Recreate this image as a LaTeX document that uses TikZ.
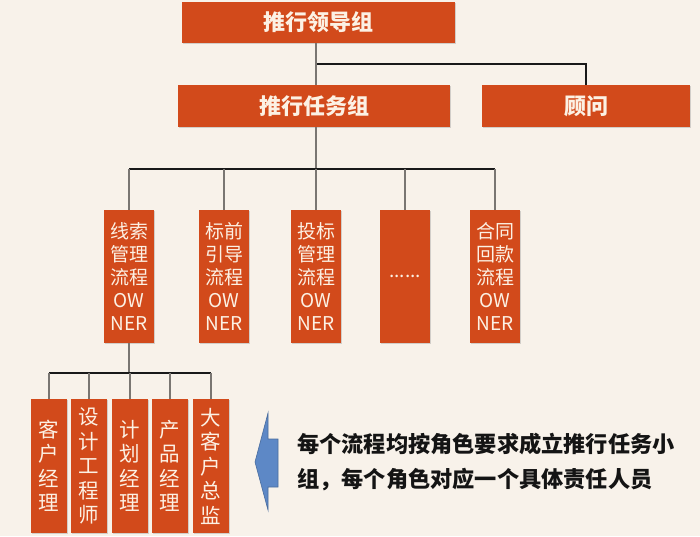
\documentclass[tikz,border=0pt]{standalone}
\usepackage{fontspec}
\setmainfont{Noto Sans CJK SC}
\newfontfamily\cjk{Noto Sans CJK SC}
\usetikzlibrary{shadows}
\definecolor{bgc}{HTML}{F8F2EA}
\definecolor{boxc}{HTML}{D24A1B}
\definecolor{txtc}{HTML}{FCF1E4}
\definecolor{arrc}{HTML}{5D88C6}
\definecolor{vline}{HTML}{7A7672}
\tikzset{
  orgbox/.style={fill=boxc, text=txtc, inner sep=0pt, align=center,
     drop shadow={shadow xshift=1.2pt, shadow yshift=-1.2pt, fill=black!45, opacity=0.35}},
  topbox/.style={orgbox, font=\cjk\bfseries\fontsize{22}{25}\selectfont},
  midbox/.style={orgbox, minimum width=50pt, minimum height=133pt, font=\cjk\fontsize{19}{23}\selectfont},
  lowbox/.style={orgbox, minimum width=36pt, minimum height=134pt, font=\cjk\fontsize{20.5}{24.5}\selectfont},
  hconn/.style={draw=black!90, line width=2pt},
  vconn/.style={draw=vline, line width=2.4pt},
}
\begin{document}
\begin{tikzpicture}[x=1pt,y=-1pt]
\fill[bgc] (0,0) rectangle (700,536);
\useasboundingbox (0,0) rectangle (700,536);

% top
\node[topbox, minimum width=273pt, minimum height=41pt] (lead) at (318.5,22.5) {推行领导组};
\node[topbox, minimum width=272pt, minimum height=42pt] (task) at (314,106) {推行任务组};
\node[topbox, minimum width=208pt, minimum height=42pt] (adv) at (586,106) {顾问};

% middle
\node[midbox] (m1) at (129,276.5) {线索\\管理\\流程\\OW\\NER};
\node[midbox] (m2) at (224,276.5) {标前\\引导\\流程\\OW\\NER};
\node[midbox] (m3) at (316,276.5) {投标\\管理\\流程\\OW\\NER};
\node[midbox] (m4) at (405,276.5) {......};
\node[midbox] (m5) at (495,276.5) {合同\\回款\\流程\\OW\\NER};

% bottom
\node[lowbox] (b1) at (49,466) {客\\户\\经\\理};
\node[lowbox] (b2) at (89,466) {设\\计\\工\\程\\师};
\node[lowbox] (b3) at (130,466) {计\\划\\经\\理};
\node[lowbox] (b4) at (170,466) {产\\品\\经\\理};
\node[lowbox] (b5) at (211,466) {大\\客\\户\\总\\监};

% connectors
\coordinate (j1) at (316,64);
\coordinate (j2) at (316,169);
\coordinate (j3) at (129,373);

\draw[hconn] (j1) -| (adv.north);
\draw[vconn] (j1 |- lead.south) -- (j1 |- task.north);
\draw[vconn] (j2 |- task.south) -- (j2);
\draw[hconn] (m1.north |- j2) -- (m5.north |- j2);
\foreach \m in {m1,m2,m3,m4,m5} { \draw[vconn] (\m.north |- j2) -- (\m.north); }

\draw[vconn] (m1.south) -- (j3);
\draw[hconn] (b1.north |- j3) -- (b5.north |- j3);
\foreach \b in {b1,b2,b3,b4,b5} { \draw[vconn] (\b.north |- j3) -- (\b.north); }

% arrow
\filldraw[fill=arrc, draw=arrc!80!black, line width=0.6pt]
  (255,462) -- (268,413) -- (268,439) -- (278,439) -- (278,487) -- (268,487) -- (268,510) -- cycle;

\node[anchor=north west, align=left, inner sep=0pt, text=black!92,
      font=\cjk\bfseries\fontsize{22.2}{35}\selectfont] (note) at (297,433)
  {每个流程均按角色要求成立推行任务小\\组，每个角色对应一个具体责任人员};
\end{tikzpicture}
\end{document}
